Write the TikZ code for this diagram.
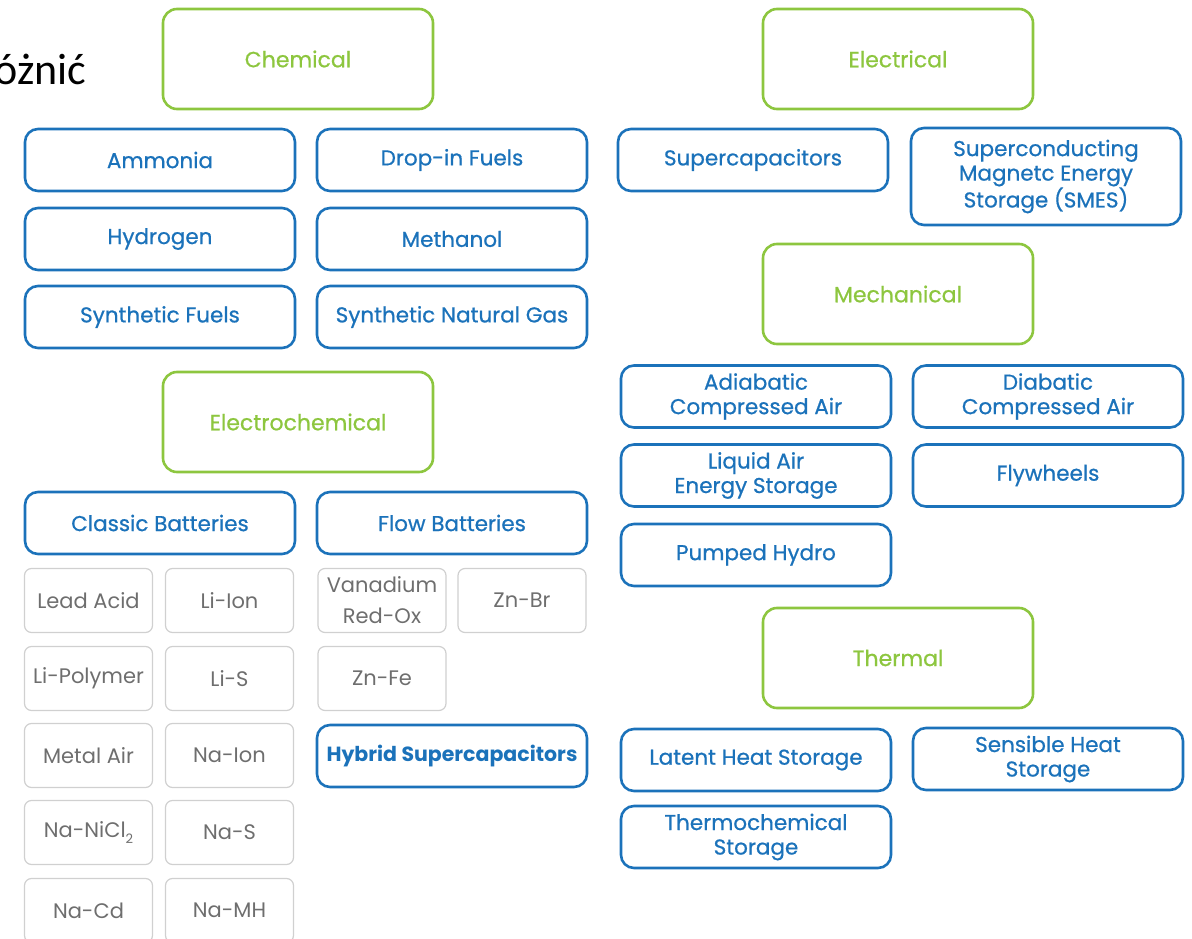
\documentclass[tikz,border=0pt]{standalone}
\usepackage{fontspec}
\setmainfont{Poppins}
\newfontfamily\medium{Poppins}[FakeBold=0.7]
\newfontfamily\calib{Carlito}
\definecolor{catgreen}{RGB}{141,198,63}
\definecolor{techblue}{RGB}{27,114,186}
\definecolor{subgrey}{RGB}{208,208,208}
\definecolor{subtext}{RGB}{110,110,110}
\newcommand{\lowtwo}{\raisebox{-0.45ex}{\fontsize{13}{13}\selectfont 2}}
\begin{document}
\begin{tikzpicture}[x=1pt,y=-1pt,
    cat/.style={draw=catgreen,line width=2.6pt,rounded corners=14pt,
      minimum width=270pt,minimum height=100pt,text=catgreen,
      font=\medium\fontsize{22}{26}\selectfont},
    tech/.style={draw=techblue,line width=2.6pt,rounded corners=13pt,
      minimum width=270pt,minimum height=62pt,text=techblue,align=center,
      inner sep=1pt,font=\medium\fontsize{21.5}{24.5}\selectfont},
    sub/.style={draw=subgrey,line width=1.2pt,rounded corners=7pt,
      minimum width=128pt,minimum height=64pt,text=subtext,align=center,
      inner sep=1pt,font=\fontsize{21}{31}\selectfont}]
  \useasboundingbox (0,0) rectangle (1192,939);
  \clip (0,0) rectangle (1192,939);
  \node[anchor=base east,font=\calib\fontsize{44}{44}\selectfont] (word) at (90,85) {óżnić};
  % Chemical
  \node[cat] (chem) at (298,59) {Chemical};
  \node[tech] (ammonia) at (160,160) {Ammonia};
  \node[tech] (dropin) at (452,160) {Drop-in Fuels};
  \node[tech] (hydrogen) at (160,239) {Hydrogen};
  \node[tech] (methanol) at (452,239) {Methanol};
  \node[tech] (synfuel) at (160,317) {Synthetic Fuels};
  \node[tech] (sng) at (452,317) {Synthetic Natural Gas};
  % Electrochemical
  \node[cat] (echem) at (298,422) {Electrochemical};
  \node[tech] (classic) at (160,523) {Classic Batteries};
  \node[tech] (flow) at (452,523) {Flow Batteries};
  \node[sub] (leadacid) at (88.5,600.5) {Lead Acid};
  \node[sub] (liion) at (229.5,600.5) {Li-Ion};
  \node[sub] (lipoly) at (88.5,678.5) {Li-Polymer};
  \node[sub] (lis) at (229.5,678.5) {Li-S};
  \node[sub] (metalair) at (88.5,755.5) {Metal Air};
  \node[sub] (naion) at (229.5,755.5) {Na-Ion};
  \node[sub] (nanicl) at (88.5,832.5) {Na-NiCl\lowtwo};
  \node[sub] (nas) at (229.5,832.5) {Na-S};
  \node[sub] (nacd) at (88.5,910.5) {Na-Cd};
  \node[sub] (namh) at (229.5,910.5) {Na-MH};
  \node[sub] (vanadium) at (382,600.5) {Vanadium\\Red-Ox};
  \node[sub] (znbr) at (522,600.5) {Zn-Br};
  \node[sub] (znfe) at (382,678.5) {Zn-Fe};
  \node[tech,font=\bfseries\fontsize{20.5}{24}\selectfont] (hybrid) at (452,756) {Hybrid Supercapacitors};
  % Electrical
  \node[cat] (elec) at (898,59) {Electrical};
  \node[tech] (supercap) at (753,160) {Supercapacitors};
  \node[tech,minimum height=97pt] (smes) at (1046,176.5) {Superconducting\\Magnetc Energy\\Storage (SMES)};
  % Mechanical
  \node[cat] (mech) at (898,294) {Mechanical};
  \node[tech] (adiabatic) at (756,396.5) {Adiabatic\\Compressed Air};
  \node[tech] (diabatic) at (1048,396.5) {Diabatic\\Compressed Air};
  \node[tech] (liquid) at (756,475.5) {Liquid Air\\Energy Storage};
  \node[tech] (flywheel) at (1048,475.5) {Flywheels};
  \node[tech] (pumped) at (756,555) {Pumped Hydro};
  % Thermal
  \node[cat] (thermal) at (898,658) {Thermal};
  \node[tech] (latent) at (756,760) {Latent Heat Storage};
  \node[tech] (sensible) at (1048,759) {Sensible Heat\\Storage};
  \node[tech] (thermochem) at (756,837) {Thermochemical\\Storage};
\end{tikzpicture}
\end{document}
